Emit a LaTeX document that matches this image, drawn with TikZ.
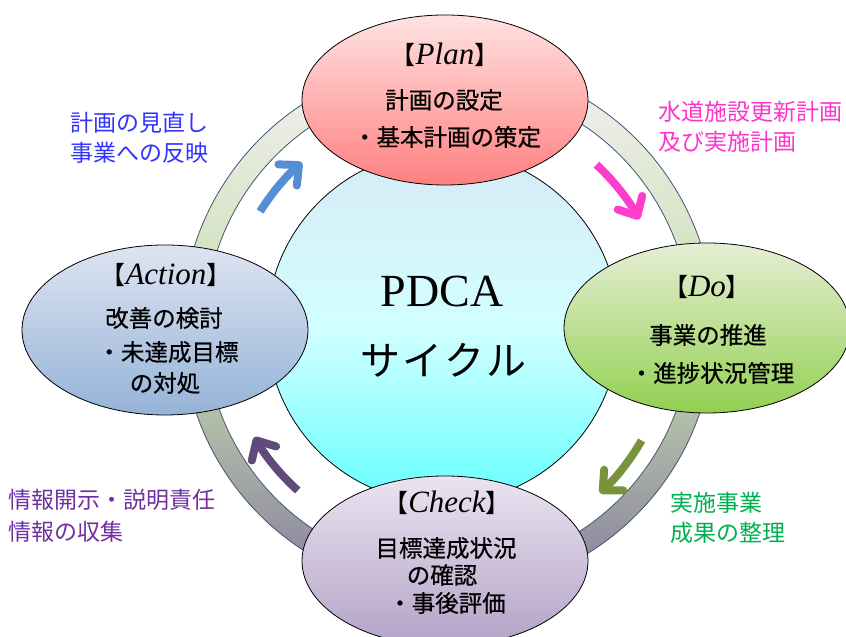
\documentclass[tikz,border=0pt]{standalone}
\usepackage{fontspec}
\setmainfont{Liberation Serif}
\newfontfamily\jp{Noto Sans CJK JP}
\newfontfamily\jpb[FakeBold=0.6]{Noto Sans CJK JP}
\usetikzlibrary{arrows.meta,calc,shapes.geometric}
\definecolor{ringtop}{RGB}{244,240,244}
\definecolor{ringmid}{RGB}{200,222,174}
\definecolor{ringbot}{RGB}{134,126,158}
\definecolor{ringline}{RGB}{64,84,110}
\definecolor{hubtop}{RGB}{214,234,246}
\definecolor{hubmid}{RGB}{210,255,255}
\definecolor{hubbot}{RGB}{102,255,255}
\definecolor{plantop}{RGB}{255,226,226}
\definecolor{planbot}{RGB}{255,128,128}
\definecolor{dotop}{RGB}{230,238,214}
\definecolor{dobot}{RGB}{146,208,80}
\definecolor{chktop}{RGB}{234,228,240}
\definecolor{chkbot}{RGB}{179,162,199}
\definecolor{acttop}{RGB}{222,228,242}
\definecolor{actbot}{RGB}{149,179,215}
\definecolor{lblue}{RGB}{51,51,255}
\definecolor{lmag}{RGB}{255,51,204}
\definecolor{lgreen}{RGB}{0,176,80}
\definecolor{lpurple}{RGB}{112,48,160}
\definecolor{ablue}{RGB}{85,142,213}
\definecolor{amag}{RGB}{255,61,204}
\definecolor{agreen}{RGB}{119,147,60}
\definecolor{apurple}{RGB}{96,74,123}
\newcommand\PDlb{{\jp\upshape\fontsize{25}{25}\selectfont【}}
\newcommand\PDrb{{\jp\upshape\fontsize{25}{25}\selectfont】}}
\begin{document}
\begin{tikzpicture}[x=1pt,y=1pt,
  phase/.style={ellipse, draw=black, line width=0.8pt, minimum width=286pt, minimum height=170pt, inner sep=0pt},
  ttl/.style={inner sep=0pt, font=\fontsize{31}{32}\selectfont\itshape},
  body/.style={inner sep=0pt, font=\jpb\fontsize{23.5}{28}\selectfont},
  lbl/.style={inner sep=0pt, anchor=west, align=left, font=\jp\fontsize{23}{30}\selectfont},
  cyc/.style={line width=8pt, -{Straight Barb[length=15pt,width=28pt,round]}}
]
\useasboundingbox (0,0) rectangle (846,637);
% ring
\coordinate (rc) at (448,310);
\shade[top color=ringtop, bottom color=ringbot, middle color=ringmid] (rc) circle[radius=266pt];
\draw[ringline, line width=0.8pt] (rc) circle[radius=266pt];
\filldraw[fill=white, draw=ringline, line width=0.8pt] (rc) circle[radius=243pt];
% arrows
\coordinate (ac) at (445,310);
\draw[cyc, ablue] ($(ac)+(148:218pt)$) arc[start angle=148, end angle=131, radius=218pt];
\draw[cyc, amag] ($(ac)+(47:222pt)$) arc[start angle=47, end angle=29, radius=222pt];
\draw[cyc, agreen] ($(ac)+(-30:227pt)$) arc[start angle=-30, end angle=-47, radius=227pt];
\draw[cyc, apurple] ($(ac)+(228:220pt)$) arc[start angle=228, end angle=210, radius=220pt];
% hub
\node[circle, draw=black, line width=0.8pt, minimum size=352pt, inner sep=0pt,
  top color=hubtop, bottom color=hubbot, middle color=hubmid] (hub) at (443,310) {};
% phases
\node[phase, top color=plantop, bottom color=planbot] (plan) at (445,537) {};
\node[phase, top color=acttop, bottom color=actbot] (act) at (165,307) {};
\node[phase, top color=dotop, bottom color=dobot] (do) at (707,309) {};
\node[phase, top color=chktop, bottom color=chkbot] (chk) at (445,76) {};
% texts
\node[font=\fontsize{46}{46}\selectfont, inner sep=0pt] (pdca) at (442,345) {PDCA};
\node[font=\jp\fontsize{40}{40}\selectfont, inner sep=0pt] (saikuru) at (443,277) {サ\hspace{2pt}イ\hspace{2pt}ク\hspace{2pt}ル};

\node[ttl] (plant) at (445,582) {\PDlb Plan\PDrb};
\node[body] (plan1) at (444,537) {計画の設定};
\node[body] (plan2) at (447,500) {・基本計画の策定};

\node[ttl] (actt) at (166,362) {\PDlb Action\PDrb};
\node[body] (act1) at (164,319) {改善の検討};
\node[body] (act2) at (168,285) {・未達成目標};
\node[body] (act3) at (165,254) {の対処};

\node[ttl] (dot) at (707,350) {\PDlb Do\PDrb};
\node[body] (do1) at (708,302) {事業の推進};
\node[body] (do2) at (712,264) {・進捗状況管理};

\node[ttl] (chkt) at (447,134) {\PDlb Check\PDrb};
\node[body] (chk1) at (446,89) {目標達成状況};
\node[body] (chk2) at (442,62) {の確認};
\node[body] (chk3) at (447,34) {・事後評価};

\node[lbl, text=lblue] (lab1) at (70,499) {計画の見直し\\事業への反映};
\node[lbl, text=lmag] (lab2) at (658,510) {水道施設更新計画\\及び実施計画};
\node[lbl, text=lgreen] (lab3) at (670,119) {実施事業\\成果の整理};
\node[lbl, text=lpurple, font=\jp\fontsize{23}{32}\selectfont] (lab4) at (8,121) {情報開示・説明責任\\情報の収集};
\end{tikzpicture}
\end{document}
